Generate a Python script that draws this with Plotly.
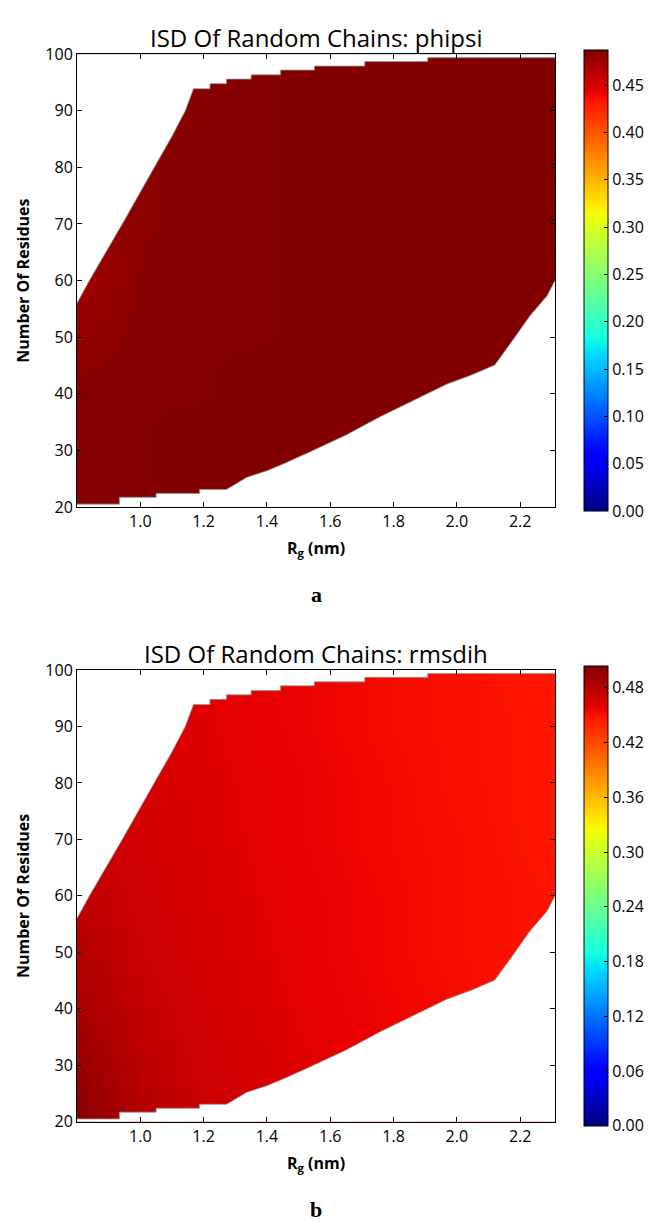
import numpy as np
import plotly.graph_objects as go

W, H = 652, 1230

# Grid nodes of the ISD maps
RG_GRID = [0.8, 1.0, 1.2, 1.4, 1.6, 1.8, 2.0, 2.2, 2.4]
N_GRID = [20, 30, 40, 50, 60, 70, 80, 90, 100]

# ISD values (rows follow N_GRID, columns follow RG_GRID)
ISD_PHIPSI = [
    [0.485, 0.485, 0.486, 0.486, 0.486, 0.486, 0.486, 0.486, 0.486],
    [0.485, 0.485, 0.486, 0.486, 0.486, 0.486, 0.486, 0.486, 0.486],
    [0.484, 0.485, 0.485, 0.486, 0.486, 0.486, 0.486, 0.486, 0.486],
    [0.479, 0.484, 0.485, 0.485, 0.486, 0.486, 0.486, 0.486, 0.486],
    [0.472, 0.483, 0.485, 0.485, 0.486, 0.486, 0.486, 0.486, 0.486],
    [0.476, 0.482, 0.484, 0.485, 0.486, 0.486, 0.486, 0.487, 0.487],
    [0.478, 0.482, 0.484, 0.485, 0.486, 0.486, 0.486, 0.487, 0.487],
    [0.480, 0.482, 0.484, 0.485, 0.486, 0.486, 0.486, 0.487, 0.487],
    [0.481, 0.482, 0.484, 0.485, 0.486, 0.486, 0.486, 0.487, 0.487],
]
ISD_RMSDIH = [
    [0.502, 0.482, 0.472, 0.466, 0.461, 0.457, 0.454, 0.451, 0.449],
    [0.494, 0.478, 0.470, 0.465, 0.460, 0.456, 0.453, 0.451, 0.449],
    [0.487, 0.475, 0.468, 0.463, 0.459, 0.456, 0.453, 0.450, 0.448],
    [0.481, 0.472, 0.466, 0.462, 0.458, 0.455, 0.452, 0.450, 0.448],
    [0.477, 0.470, 0.465, 0.461, 0.458, 0.455, 0.452, 0.450, 0.448],
    [0.474, 0.468, 0.464, 0.460, 0.457, 0.454, 0.452, 0.449, 0.447],
    [0.472, 0.467, 0.463, 0.460, 0.457, 0.454, 0.451, 0.449, 0.447],
    [0.470, 0.466, 0.462, 0.459, 0.456, 0.453, 0.451, 0.449, 0.447],
    [0.469, 0.465, 0.462, 0.459, 0.456, 0.453, 0.451, 0.448, 0.447],
]
ZMAX_PHIPSI = 0.487
ZMAX_RMSDIH = 0.504

# Edge of the sampled (Rg, N) region
LEFT_EDGE_RG = [0.8, 0.839, 0.943, 1.044, 1.10, 1.142, 1.168]
LEFT_EDGE_N = [56, 60, 70, 80, 85.5, 90, 93.9]
TOP_STEP_RG = [1.168, 1.22, 1.272, 1.35, 1.443, 1.55, 1.709, 1.908, 2.31]
TOP_STEP_N = [93.9, 94.8, 95.6, 96.35, 97.2, 97.9, 98.7, 99.4, 99.4]
BOTTOM_STEP_RG = [0.8, 0.934, 1.05, 1.187, 1.272]
BOTTOM_STEP_N = [20.5, 21.7, 22.4, 23.1, 23.1]
RIGHT_EDGE_RG = [1.272, 1.30, 1.335, 1.40, 1.46, 1.535, 1.65, 1.756, 1.861,
                 1.968, 2.05, 2.12, 2.177, 2.231, 2.285, 2.31]
RIGHT_EDGE_N = [23.1, 24.0, 25.2, 26.4, 27.8, 29.7, 32.7, 35.9, 38.7,
                41.7, 43.4, 45.1, 49.5, 53.8, 57.3, 60.0]

X_TICKS = [1.0, 1.2, 1.4, 1.6, 1.8, 2.0, 2.2]
Y_TICKS = [20, 30, 40, 50, 60, 70, 80, 90, 100]
CB_TICKS_PHIPSI = [0.00, 0.05, 0.10, 0.15, 0.20, 0.25, 0.30, 0.35, 0.40, 0.45]
CB_TICKS_RMSDIH = [0.00, 0.06, 0.12, 0.18, 0.24, 0.30, 0.36, 0.42, 0.48]

TITLES = ["ISD Of Random Chains: phipsi", "ISD Of Random Chains: rmsdih"]
PANELS = ["a", "b"]


def jet_scale():
    stops = [0, 0.11, 0.125, 0.34, 0.35, 0.375, 0.64, 0.65, 0.66, 0.89, 0.91, 1.0]
    r = np.interp(stops, [0, 0.35, 0.66, 0.89, 1], [0, 0, 1, 1, 0.5])
    g = np.interp(stops, [0, 0.125, 0.375, 0.64, 0.91, 1], [0, 0, 1, 1, 0, 0])
    b = np.interp(stops, [0, 0.11, 0.34, 0.65, 1], [0.5, 1, 1, 0, 0])
    return [[s, "rgb(%d,%d,%d)" % (round(rr * 255), round(gg * 255), round(bb * 255))]
            for s, rr, gg, bb in zip(stops, r, g, b)]


def steps(xs, ys):
    px, py = [], []
    for i in range(len(xs) - 1):
        px += [xs[i], xs[i + 1]]
        py += [ys[i], ys[i]]
    return px, py


def py2paper(y):
    return 1 - y / H


def px2paper(x):
    return x / W


JET = jet_scale()
X0, X1 = 77, 555
PLOT_Y = [(44, 505), (671, 1131)]
CB_X0 = 584
FONT = "Open Sans"

fig = go.Figure()

data_sets = [(ISD_PHIPSI, ZMAX_PHIPSI, CB_TICKS_PHIPSI),
             (ISD_RMSDIH, ZMAX_RMSDIH, CB_TICKS_RMSDIH)]

top_x, top_y = steps(TOP_STEP_RG, TOP_STEP_N)
up_x = [0.7] + LEFT_EDGE_RG + top_x + [2.31, 2.45, 2.45, 0.7, 0.7]
up_y = [56] + LEFT_EDGE_N + top_y + [99.4, 99.4, 101, 101, 56]
bot_x, bot_y = steps(BOTTOM_STEP_RG, BOTTOM_STEP_N)
lo_x = [0.7] + bot_x + RIGHT_EDGE_RG + [2.45, 2.45, 0.7, 0.7]
lo_y = [20.5] + bot_y + RIGHT_EDGE_N + [60, 19, 19, 20.5]

for k, (z, zmax, cbt) in enumerate(data_sets):
    xa = "x" if k == 0 else "x2"
    ya = "y" if k == 0 else "y2"
    yt, yb = PLOT_Y[k]
    fig.add_trace(go.Heatmap(
        x=RG_GRID, y=N_GRID, z=z, zmin=0, zmax=zmax, zsmooth="best",
        colorscale=JET, xaxis=xa, yaxis=ya, hoverinfo="skip",
        colorbar=dict(
            x=px2paper(CB_X0), xanchor="left", xpad=0, ypad=0,
            y=py2paper((yt + yb) / 2), yanchor="middle",
            len=yb - yt, lenmode="pixels", thickness=24, thicknessmode="pixels",
            outlinewidth=1, outlinecolor="black",
            ticks="inside", ticklen=4, tickcolor="black", tickwidth=1,
            tickvals=cbt, ticktext=["%.2f" % v for v in cbt],
            tickfont=dict(family=FONT, size=16, color="black"),
        ),
    ))
    for px_, py_ in [(up_x, up_y), (lo_x, lo_y)]:
        fig.add_trace(go.Scatter(
            x=px_, y=py_, mode="lines", fill="toself", fillcolor="white",
            line=dict(color="rgba(150,150,150,0.8)", width=1),
            xaxis=xa, yaxis=ya, hoverinfo="skip", showlegend=False,
        ))

axis_common = dict(
    showline=True, linecolor="black", linewidth=1, mirror="ticks",
    ticks="inside", ticklen=5, tickwidth=1, tickcolor="black",
    showgrid=False, zeroline=False,
    tickfont=dict(family=FONT, size=16, color="black"),
)

layout = dict(
    width=W, height=H, margin=dict(l=0, r=0, t=0, b=0),
    paper_bgcolor="white", plot_bgcolor="white", showlegend=False,
)
annotations = []
for k in range(2):
    yt, yb = PLOT_Y[k]
    sx = "" if k == 0 else "2"
    layout["xaxis" + sx] = dict(
        axis_common, domain=[px2paper(X0), px2paper(X1)], range=[0.8, 2.31],
        tickvals=X_TICKS, ticktext=["%.1f" % v for v in X_TICKS],
        anchor="y" + sx,
        title=dict(text="<b>R<sub>g</sub> (nm)</b>", standoff=11,
                   font=dict(family=FONT, size=16, color="black")),
    )
    layout["yaxis" + sx] = dict(
        axis_common, domain=[py2paper(yb), py2paper(yt)], range=[20, 100],
        tickvals=Y_TICKS, ticktext=[str(v) for v in Y_TICKS],
        anchor="x" + sx,
        title=dict(text="<b>Number Of Residues</b>", standoff=11,
                   font=dict(family=FONT, size=16, color="black")),
    )
    cx = px2paper((X0 + X1) / 2)
    annotations += [
        dict(text=TITLES[k], x=cx, y=py2paper(yt - 17), xref="paper", yref="paper",
             xanchor="center", yanchor="middle", showarrow=False,
             font=dict(family=FONT, size=24, color="black")),
        dict(text="<b>%s</b>" % PANELS[k], x=cx, y=py2paper(yb + 89),
             xref="paper", yref="paper", xanchor="center", yanchor="middle",
             showarrow=False, font=dict(family="Liberation Serif", size=22, color="black")),
    ]
layout["annotations"] = annotations
fig.update_layout(**layout)

fig.write_html("out.html")
